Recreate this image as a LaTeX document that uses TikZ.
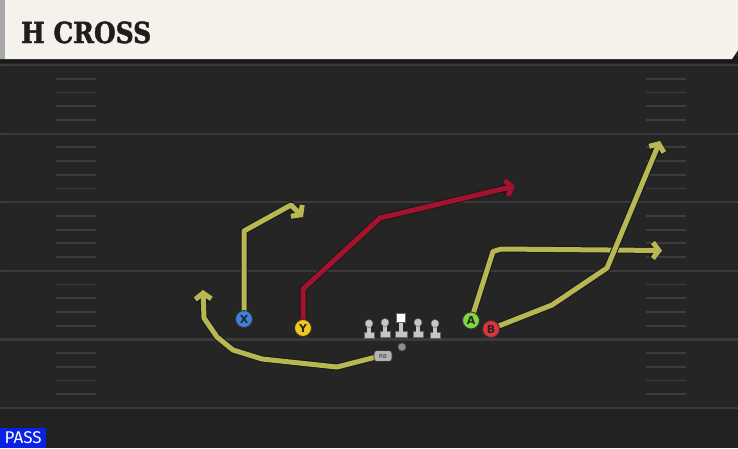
\documentclass[tikz,border=0pt]{standalone}
\usepackage{fontspec}
\setmainfont{DejaVu Serif}
\newfontfamily\titlefont[BoldFont=DejaVu Serif Bold, BoldFeatures={FakeBold=1.6}]{DejaVu Serif}
\newfontfamily\passfont{Fira Sans}
\newfontfamily\labfont{DejaVu Sans}
\usetikzlibrary{arrows.meta}
\definecolor{field}{HTML}{252525}
\definecolor{fieldlow}{HTML}{222222}
\definecolor{yardline}{HTML}{3A3A3A}
\definecolor{hashc}{HTML}{3C3C3C}
\definecolor{cream}{HTML}{F5F2EC}
\definecolor{edgegray}{HTML}{A8A8A8}
\definecolor{titlec}{HTML}{1E1E1E}
\definecolor{routey}{HTML}{B9B753}
\definecolor{router}{HTML}{A3122E}
\definecolor{pblue}{HTML}{3F80D9}
\definecolor{pyellow}{HTML}{F4C51D}
\definecolor{pgreen}{HTML}{7FD53B}
\definecolor{pred}{HTML}{E0343C}
\definecolor{olgray}{HTML}{C6C6C6}
\definecolor{passblue}{HTML}{0A22E6}
\tikzset{
  yard/.style={draw=yardline, line width=2.2pt},
  hashmark/.style={draw=hashc, line width=1.8pt},
  route/.style={line width=5pt, line join=round, line cap=round,
    preaction={draw=black!90, line width=7pt}},
  tip/.style={-{Straight Barb[length=6pt,width=16pt]}},
  player/.style={circle, draw=black!80, line width=0.9pt, minimum size=17pt,
    inner sep=0pt, font=\labfont\bfseries\fontsize{11}{11}\selectfont, text=black!85},
  lineman/.pic={
    \fill[olgray, draw=black!60, line width=0.4pt] (-5,9) rectangle (5,14.5);
    \fill[olgray] (-2,0) rectangle (2,9.5);
    \fill[olgray, draw=black!60, line width=0.4pt] (0,0) circle (4);
  }
}
\begin{document}
\begin{tikzpicture}[x=1pt,y=-1pt]
\useasboundingbox (0,0) rectangle (738,448);
\fill[field] (0,0) rectangle (738,448);
\fill[fieldlow] (0,409) rectangle (738,448);
\draw[black!10!field, line width=1pt] (1,63) -- (1,448);
% header
\fill[black!90] (0,56) rectangle (738,63);
\fill[cream] (0,0) -- (738,0) -- (738,50) -- (732,59) -- (0,59) -- cycle;
\fill[edgegray] (0,0) rectangle (4.5,59);
\node[anchor=base west, inner sep=0pt, text=titlec, xscale=0.86,
  font=\titlefont\bfseries\fontsize{29}{29}\selectfont] (title) at (21,43) {H CROSS};
% yard lines and hashes
\foreach \m in {65,133.6,202.2,270.8,339.4,408} {
  \draw[yard] (0,\m) -- (738,\m);
}
\foreach \m in {65,133.6,202.2,270.8,339.4} {
  \foreach \k in {1,2,3,4} {
    \draw[hashmark] (56,{\m+\k*13.72}) -- (96,{\m+\k*13.72});
    \draw[hashmark] (646,{\m+\k*13.72}) -- (686,{\m+\k*13.72});
  }
}
% player positions
\coordinate (Xp) at (244,319);
\coordinate (Yp) at (303,328);
\coordinate (Ap) at (471,320.5);
\coordinate (Bp) at (491,329);
\coordinate (RBp) at (380,356);
% route ends
\coordinate (Xe) at (303,217);
\coordinate (Ye) at (515,186);
\coordinate (Ae) at (662,250.5);
\coordinate (Be) at (660,141);
\coordinate (RBe) at (203,290);
% routes
\draw[route, tip, draw=routey] (Xp) -- (244,231) -- (291,205) -- (Xe);
\draw[route, tip, draw=router] (Yp) -- (303,289) -- (380,218) -- (Ye);
\draw[route, tip, draw=routey] (Ap) -- (493,251.5) -- (501,249) -- (Ae);
\draw[route, tip, draw=routey] (Bp) -- (552,305) -- (607,268) -- (Be);
\draw[route, tip, draw=routey] (RBp) -- (337,367) -- (262,359) -- (233,350)
  -- (217,337) -- (204,318) -- (RBe);
% offensive line
\pic at (369,323.5) {lineman};
\pic at (385,322.5) {lineman};
\pic at (418,322.5) {lineman};
\pic at (435,323.5) {lineman};
\fill[olgray, draw=black!60, line width=0.4pt] (395,331.5) rectangle (407,337);
\fill[olgray] (399,321) rectangle (403,332);
\fill[white, draw=black!60, line width=0.4pt] (396.5,313.5) rectangle (405.5,322);
% QB ball
\fill[black!45, draw=black!80, line width=0.5pt] (402,347) circle (4.2);
% RB tag
\node[draw=black!80, fill=black!30, line width=0.6pt, rounded corners=3pt,
  minimum width=18pt, minimum height=11pt, inner sep=0pt,
  font=\labfont\fontsize{5.5}{5.5}\selectfont, text=black!80] (RB) at (383,356) {RB};
% players
\node[player, fill=pblue] (X) at (Xp) {X};
\node[player, fill=pyellow] (Y) at (Yp) {Y};
\node[player, fill=pgreen] (A) at (Ap) {A};
\node[player, fill=pred] (B) at (Bp) {B};
% PASS label
\node[anchor=south west, fill=passblue, minimum width=46pt, minimum height=20pt,
  inner sep=0pt, text=white, font=\passfont\fontsize{17}{17}\selectfont] (pass) at (0,448) {PASS};
\end{tikzpicture}
\end{document}
